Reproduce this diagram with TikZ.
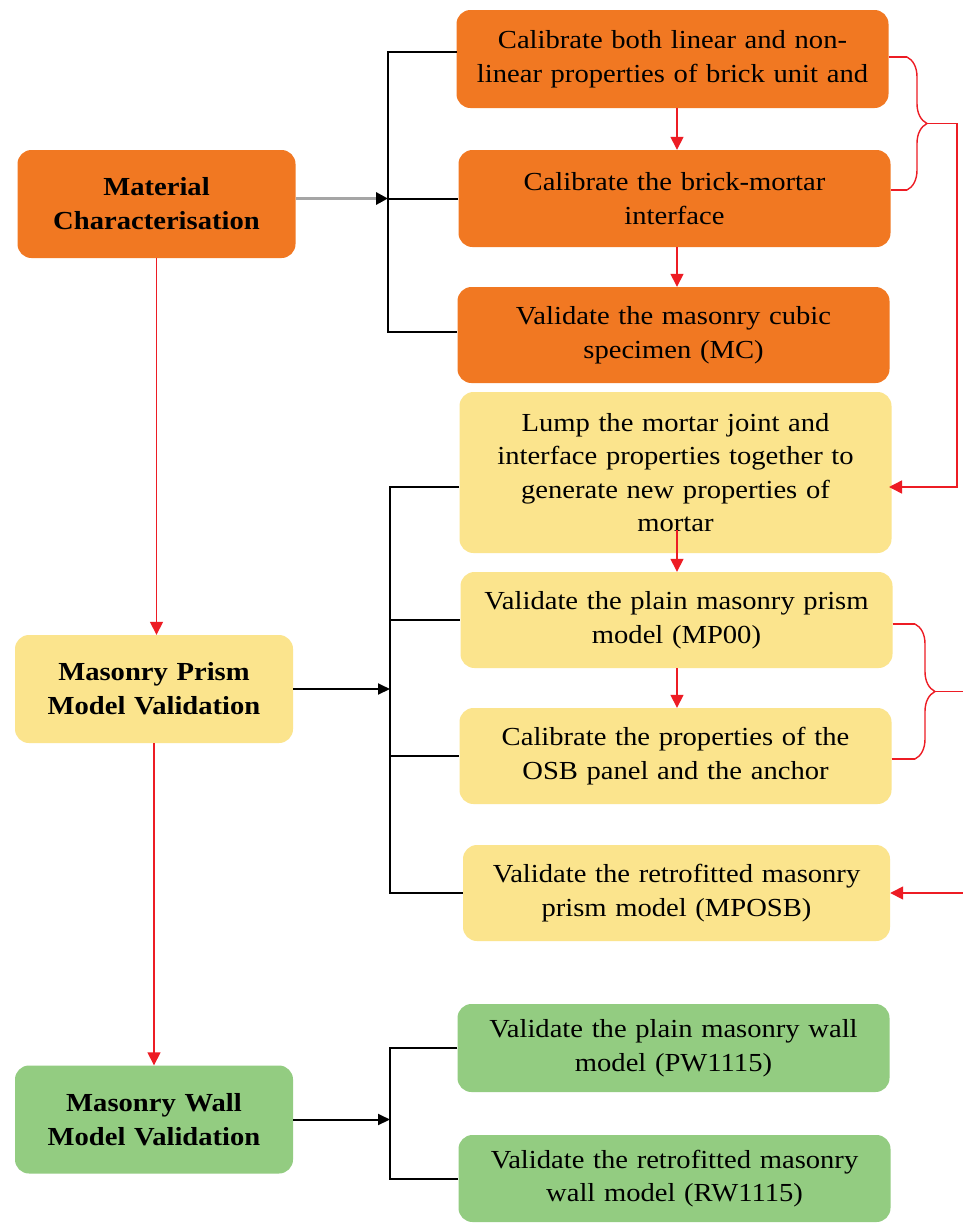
\documentclass[tikz,border=0pt]{standalone}
\usepackage{fontspec}
\setmainfont{Liberation Serif}[FakeStretch=1.1]
\usetikzlibrary{arrows.meta,decorations.pathreplacing}
\definecolor{corange}{RGB}{241,120,34}
\definecolor{cyellow}{RGB}{251,228,141}
\definecolor{cgreen}{RGB}{147,204,129}
\definecolor{cred}{RGB}{237,28,36}
\definecolor{cgray}{RGB}{165,165,165}
\tikzset{
  box/.style={rounded corners=14pt, align=center, inner sep=0pt, text=black},
  rbox/.style={box, minimum width=432pt, text width=425pt, font=\fontsize{26}{33.5}\selectfont},
  lbox/.style={box, minimum width=278pt, minimum height=108pt, text width=272pt, font=\fontsize{26}{34}\selectfont\bfseries},
  org/.style={fill=corange},
  yel/.style={fill=cyellow},
  grn/.style={fill=cgreen},
  bline/.style={draw=black, line width=2pt},
  barr/.style={draw=black, line width=2pt, -{Triangle[length=12pt,width=11pt]}},
  garr/.style={draw=cgray, line width=3pt, -{Triangle[length=12pt,width=12pt,color=black]}},
  rline/.style={draw=cred, line width=1.4pt},
  rarr/.style={draw=cred, line width=1.5pt, -{Triangle[length=13pt,width=13pt]}},
  rbrace/.style={draw=cred, line width=1.4pt, decorate, decoration={brace, amplitude=20pt}},
}
\begin{document}
\begin{tikzpicture}[x=1pt,y=-1pt]
\useasboundingbox (0,0) rectangle (963,1224);
\fill[white] (0,0) rectangle (963,1224);

% left column
\node[lbox, org] (mc) at (156.5,204) {Material\\Characterisation};
\node[lbox, yel] (mp) at (154,689) {Masonry Prism\\Model Validation};
\node[lbox, grn] (mw) at (154,1119.5) {Masonry Wall\\Model Validation};

% right column
\node[rbox, org, minimum height=98pt] (b1) at (672.5,59) {Calibrate both linear and non-\\linear properties of brick unit and};
\node[rbox, org, minimum height=97pt] (b2) at (674.5,198.5) {Calibrate the brick-mortar\\interface};
\node[rbox, org, minimum height=96pt] (b3) at (673.5,335) {Validate the masonry cubic\\specimen (MC)};
\node[rbox, yel, minimum height=161pt] (b4) at (675.5,472.5) {Lump the mortar joint and\\interface properties together to\\generate new properties of\\mortar};
\node[rbox, yel, minimum height=96pt] (b5) at (676.5,620) {Validate the plain masonry prism\\model (MP00)};
\node[rbox, yel, minimum height=96pt] (b6) at (675.5,756) {Calibrate the properties of the\\OSB panel and the anchor};
\node[rbox, yel, minimum height=96pt, minimum width=427pt] (b7) at (676.5,893) {Validate the retrofitted masonry\\prism model (MPOSB)};
\node[rbox, grn, minimum height=88pt] (b8) at (673.5,1048) {Validate the plain masonry wall\\model (PW1115)};
\node[rbox, grn, minimum height=87pt] (b9) at (674.5,1178.5) {Validate the retrofitted masonry\\wall model (RW1115)};

% helper coordinates
\coordinate (v1) at (388,0);
\coordinate (v2) at (390,0);
\coordinate (ax) at (677,0);
\coordinate (j1) at (457,52);
\coordinate (j3) at (457,332);
\coordinate (j4) at (459,487);
\coordinate (m4) at (677,530);

% black brackets
\draw[bline] (j1) -- (v1 |- j1) -- (v1 |- j3) -- (j3);
\draw[bline] (v1 |- b2.west) -- (b2.west);
\draw[garr] (mc.east |- b2.west) -- (v1 |- b2.west);

\draw[bline] (j4) -- (v2 |- j4) -- (v2 |- b7.west) -- (b7.west);
\draw[bline] (v2 |- b5.west) -- (b5.west);
\draw[bline] (v2 |- b6.west) -- (b6.west);
\draw[barr] (mp.east) -- (v2 |- mp.east);

\draw[bline] (b8.west) -- (v2 |- b8.west) -- (v2 |- b9.west) -- (b9.west);
\draw[barr] (mw.east) -- (v2 |- mw.east);

% red vertical arrows
\draw[rarr] (mc.south) -- (mc.south |- mp.north);
\draw[rarr] (mp.south) -- (mp.south |- mw.north);
\draw[rarr] (ax |- b1.south) -- (ax |- b2.north);
\draw[rarr] (ax |- b2.south) -- (ax |- b3.north);
\draw[rarr] (m4) -- (ax |- b5.north);
\draw[rarr] (ax |- b5.south) -- (ax |- b6.north);

% red brace 1
\coordinate (br1a) at (907,57);
\coordinate (br1b) at (907,190);
\coordinate (t1) at (927,123.5);
\coordinate (e1) at (957,123.5);
\coordinate (a4) at (889,487);
\draw[rline] (b1.east |- br1a) -- (br1a);
\draw[rline] (b2.east |- br1b) -- (br1b);
\draw[rbrace] (br1a) -- (br1b);
\draw[rarr] (t1) -- (e1) |- (a4);

% red brace 2
\coordinate (br2a) at (915,624);
\coordinate (br2b) at (915,759);
\coordinate (t2) at (935,691.5);
\coordinate (e2) at (963,691.5);
\coordinate (e3) at (963,893);
\draw[rline] (b5.east |- br2a) -- (br2a);
\draw[rline] (b6.east |- br2b) -- (br2b);
\draw[rbrace] (br2a) -- (br2b);
\draw[rline] (t2) -- (e2);
\draw[rarr] (e3) -- (b7.east);
\end{tikzpicture}
\end{document}
